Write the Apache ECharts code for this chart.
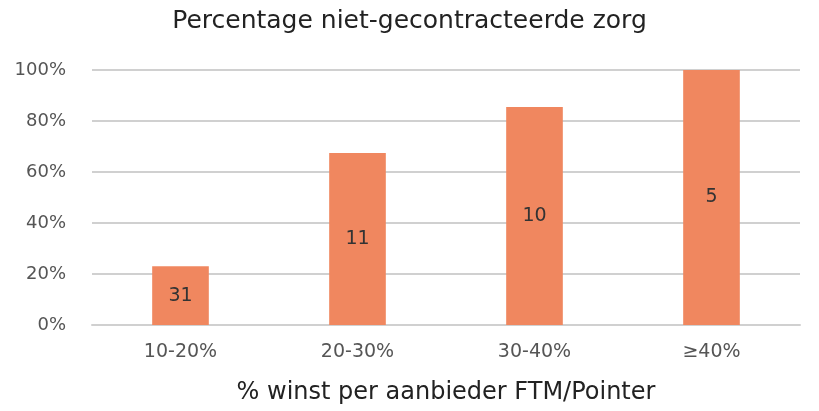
<!DOCTYPE html>
<html>
<head>
<meta charset="utf-8">
<script src="https://cdn.jsdelivr.net/npm/echarts@6/dist/echarts.min.js"></script>
<style>html,body{margin:0;padding:0;background:#fff}#c{width:819px;height:411px}</style>
</head>
<body>
<div id="c"></div>
<script>
const categories = ['10-20%', '20-30%', '30-40%', '≥40%'];
const percentValues = [23, 67.5, 85.5, 100];
const barLabels = ['31', '11', '10', '5'];
const yTicks = [0, 20, 40, 60, 80, 100];

const chart = echarts.init(document.getElementById('c'));
const font = '"DejaVu Sans", sans-serif';
chart.setOption({
  animation: false,
  title: {
    text: 'Percentage niet-gecontracteerde zorg',
    left: 'center', top: 4,
    textStyle: { fontFamily: font, fontSize: 25, fontWeight: 'normal', color: '#222' }
  },
  grid: { left: 92, right: 19, top: 70, bottom: 86 },
  xAxis: {
    type: 'category',
    data: categories,
    name: '% winst per aanbieder FTM/Pointer',
    nameLocation: 'middle',
    nameGap: 56,
    nameTextStyle: { fontFamily: font, fontSize: 24, color: '#222' },
    axisLine: { lineStyle: { color: '#d0d0d0', width: 2 } },
    axisTick: { show: false },
    axisLabel: { fontFamily: font, fontSize: 19, color: '#555', margin: 18 }
  },
  yAxis: {
    type: 'value',
    min: yTicks[0], max: yTicks[yTicks.length - 1], interval: 20,
    axisLine: { show: false },
    axisTick: { show: false },
    splitLine: { lineStyle: { color: '#d0d0d0', width: 2 } },
    axisLabel: { fontFamily: font, fontSize: 18, color: '#555', margin: 26, formatter: v => v + '%' }
  },
  series: [{
    type: 'bar',
    data: percentValues,
    barWidth: '32%',
    itemStyle: { color: '#F0875F' },
    label: {
      show: true, position: 'inside',
      fontFamily: font, fontSize: 19, color: '#333',
      formatter: p => barLabels[p.dataIndex]
    }
  }]
});
</script>
</body>
</html>
